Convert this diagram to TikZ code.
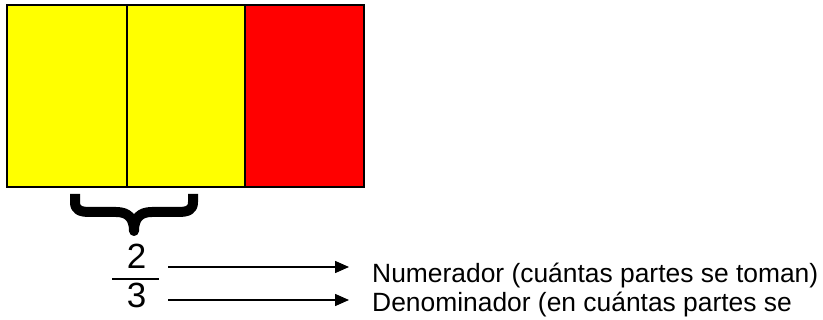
\documentclass[tikz,border=0pt]{standalone}
\usepackage{fontspec}
\setmainfont{Liberation Sans}
\usetikzlibrary{arrows.meta}
\definecolor{partyellow}{RGB}{255,255,0}
\definecolor{partred}{RGB}{255,0,0}
\tikzset{
  part/.style={draw=black, line width=2.5pt},
  pointer/.style={line width=1.5pt, -{Triangle[length=14pt,width=12pt]}},
  label/.style={inner sep=0pt, anchor=base west, font=\fontsize{26.4}{29}\selectfont},
  digit/.style={inner sep=0pt, anchor=base, font=\fontsize{35}{38}\selectfont},
}
\begin{document}
\begin{tikzpicture}[x=1pt, y=-1pt]
  \useasboundingbox (0,0) rectangle (823,320);
  % the whole, split into three equal parts
  \path[part, fill=partyellow] (7,5) rectangle (127,187);
  \path[part, fill=partyellow] (127,5) rectangle (245,187);
  \path[part, fill=partred] (245,5) rectangle (364,187);
  % brace under the two shaded parts
  \draw[line width=10pt, line join=round]
    (75,194) -- (75,202) .. controls (75,210) and (80,212) .. (90,212)
    -- (116,212) .. controls (128,212) and (134,218) .. (134,231)
    .. controls (134,218) and (140,212) .. (152,212)
    -- (178,212) .. controls (188,212) and (193,210) .. (193,202) -- (193,194);
  % the fraction 2/3
  \node[digit] (num) at (136.5,269) {2};
  \node[digit] (den) at (136.5,308) {3};
  \draw[line width=2pt] (112,279) -- (159,279);
  % labels and pointers
  \node[label] (numtext) at (372,283) {Numerador (cuántas partes se toman)};
  \node[label] (dentext) at (372,312) {Denominador (en cuántas partes se};
  \coordinate (numfrom) at (168,267);
  \coordinate (numto) at (349,267);
  \coordinate (denfrom) at (168,300);
  \coordinate (dento) at (349,300);
  \draw[pointer] (numfrom) -- (numto);
  \draw[pointer] (denfrom) -- (dento);
\end{tikzpicture}
\end{document}
